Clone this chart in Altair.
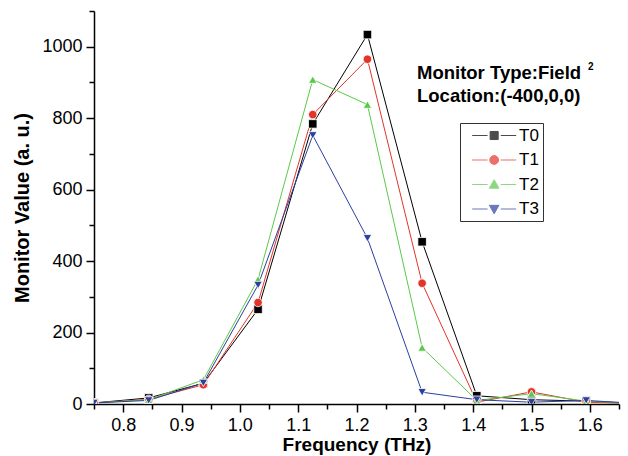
import altair as alt
import pandas as pd

# ---- data ----
freq = [0.75, 0.84375, 0.9375, 1.03125, 1.125, 1.21875, 1.3125, 1.40625, 1.5, 1.59375, 1.6875]
t0 = [3, 17, 58, 265, 784, 1034, 454, 23, 12, 8, 1]
t1 = [3, 13, 54, 284, 810, 965, 338, 5, 34, 5, 1]
t2 = [3, 12, 68, 349, 908, 838, 158, 10, 29, 8, 1]
t3 = [3, 10, 59, 333, 752, 464, 33, 12, 5, 10, 1]

series = ["T0", "T1", "T2", "T3"]
colors = ["#000000", "#e3342a", "#5cc84b", "#2b3f9f"]
shapes = ["square", "circle", "triangle-up", "triangle-down"]

x_ticks = [0.75, 0.8, 0.85, 0.9, 0.95, 1.0, 1.05, 1.1, 1.15, 1.2, 1.25,
           1.3, 1.35, 1.4, 1.45, 1.5, 1.55, 1.6, 1.65]
y_ticks = [0, 100, 200, 300, 400, 500, 600, 700, 800, 900, 1000, 1100]

annot_line1 = "Monitor Type:Field"
annot_sup = "2"
annot_line2 = "Location:(-400,0,0)"

# legend symbols: line - marker - line (custom paths, unit = sqrt(size)/2)
seg = "M-1,0L1.1,0M2.9,0L5,0"
legend_paths = [
    seg + "M1.45,-0.55L2.55,-0.55L2.55,0.55L1.45,0.55Z",
    seg + "M2.6,0A0.6,0.6,0,1,1,1.4,0A0.6,0.6,0,1,1,2.6,0Z",
    seg + "M2,-0.65L2.65,0.5L1.35,0.5Z",
    seg + "M2,0.65L2.65,-0.5L1.35,-0.5Z",
]

rows = []
for name, vals in zip(series, [t0, t1, t2, t3]):
    for f, v in zip(freq, vals):
        rows.append({"freq": f, "value": v, "series": name})
df = pd.DataFrame(rows)

FONT = "Liberation Sans"

x_scale = alt.Scale(domain=[0.75, 1.65], nice=False, zero=False)
y_scale = alt.Scale(domain=[0, 1100], nice=False, zero=False)

x_axis = alt.Axis(
    values=x_ticks,
    labelExpr="round(datum.value*100) % 10 == 0 ? format(datum.value, '.1f') : ''",
    tickSize={"condition": {"test": "round(datum.value*100) % 10 == 0", "value": 8}, "value": 5},
    grid=False, domainColor="black", tickColor="black", domainWidth=1.5, tickWidth=1.5,
    labelFont=FONT, labelFontSize=18, labelColor="black", labelPadding=4,
    labelOverlap=False, labelFlush=False, labelBound=False,
    titleFont=FONT, titleFontSize=19, titleFontWeight="bold", titleColor="black", titlePadding=1,
)
y_axis = alt.Axis(
    values=y_ticks, format="d",
    labelExpr="datum.value % 200 == 0 ? datum.label : ''",
    tickSize={"condition": {"test": "datum.value % 200 == 0", "value": 8}, "value": 5},
    grid=False, domainColor="black", tickColor="black", domainWidth=1.5, tickWidth=1.5,
    labelFont=FONT, labelFontSize=18, labelColor="black", labelPadding=4,
    labelOverlap=False, labelFlush=False, labelBound=False,
    titleFont=FONT, titleFontSize=20, titleFontWeight="bold", titleColor="black", titlePadding=9,
)

base = alt.Chart(df).encode(
    x=alt.X("freq:Q", scale=x_scale, axis=x_axis, title="Frequency (THz)"),
    y=alt.Y("value:Q", scale=y_scale, axis=y_axis, title="Monitor Value (a. u.)"),
    color=alt.Color("series:N", scale=alt.Scale(domain=series, range=colors), legend=None),
)

lines = base.mark_line(strokeWidth=1, clip=True)
points = base.mark_point(filled=True, opacity=1, size=72, stroke="white", strokeWidth=0.8,
                         clip=True).encode(
    shape=alt.Shape("series:N", scale=alt.Scale(domain=series, range=shapes), legend=None)
)

legend_props = dict(
    title=None, orient="none", legendX=366, legendY=112, direction="vertical",
    strokeColor="#333333", fillColor="white", padding=4,
    symbolSize=215, symbolStrokeWidth=1, symbolOffset=7,
    labelOffset=31, labelFont=FONT, labelFontSize=17, labelColor="black",
    rowPadding=6.5, labelExpr="datum.label + '\u00a0\u00a0\u00a0\u00a0\u00a0'",
)
leg_df = pd.DataFrame({"lg": series})
legend_layer = alt.Chart(leg_df).transform_filter("false").mark_point(
    filled=True, size=215, strokeWidth=1
).encode(
    color=alt.Color("lg:N", scale=alt.Scale(domain=series, range=colors),
                    legend=alt.Legend(**legend_props)),
    stroke=alt.Stroke("lg:N", scale=alt.Scale(domain=series, range=colors),
                      legend=alt.Legend(**legend_props)),
    shape=alt.Shape("lg:N", scale=alt.Scale(domain=series, range=legend_paths),
                    legend=alt.Legend(**legend_props)),
)

def text_layer(txt, x, y, size):
    return alt.Chart(pd.DataFrame({"t": [txt]})).mark_text(
        align="left", baseline="alphabetic", font=FONT, fontWeight="bold",
        fontSize=size, color="black"
    ).encode(x=alt.value(x), y=alt.value(y), text="t:N")

ann1 = text_layer(annot_line1, 323, 68, 18.5)
ann_sup = text_layer(annot_sup, 494, 59, 10)
ann2 = text_layer(annot_line2, 323, 91, 18.5)

chart = alt.layer(lines, points, legend_layer, ann1, ann_sup, ann2).resolve_scale(
    color="independent", shape="independent", stroke="independent"
).properties(
    width=525, height=393,
    autosize=alt.AutoSizeParams(type="none"),
    padding={"left": 94, "top": 11, "right": 9, "bottom": 52},
    background="white",
).configure_view(stroke=None)

chart.save("out.html", embed_options={"renderer": "svg", "actions": False})
